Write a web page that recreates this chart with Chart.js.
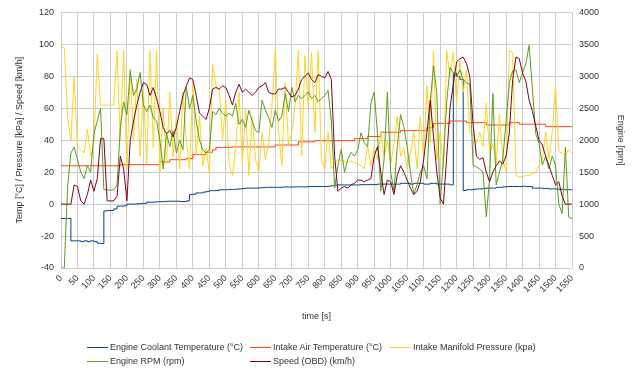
<!DOCTYPE html>
<html>
<head>
<meta charset="utf-8">
<script src="https://cdn.jsdelivr.net/npm/chart.js@4.4.1/dist/chart.umd.min.js"></script>
<style>
  body { margin: 0; background: #fff; }
  #wrap { position: relative; width: 640px; height: 368px; }
  .lg { position: absolute; font: 9px "Liberation Sans", Arial, sans-serif; color: #333; white-space: nowrap; line-height: 12px; height: 12px; padding-left: 23px; }
  .lg i { position: absolute; left: 0; top: 6px; width: 21px; height: 1px; }
</style>
</head>
<body>
<div id="wrap">
  <canvas id="chart" width="640" height="368"></canvas>
  <div id="legend"></div>
</div>
<script>
// time axis, one sample every 10 s
const times = [
  0,10,20,30,40,50,60,70,80,90, 100,110,120,130,140,150,160,170,180,190,
  200,210,220,230,240,250,260,270,280,290, 300,310,320,330,340,350,360,370,380,390,
  400,410,420,430,440,450,460,470,480,490, 500,510,520,530,540,550,560,570,580,590,
  600,610,620,630,640,650,660,670,680,690, 700,710,720,730,740,750,760,770,780,790,
  800,810,820,830,840,850,860,870,880,890, 900,910,920,930,940,950,960,970,980,990,
  1000,1010,1020,1030,1040,1050,1060,1070,1080,1090, 1100,1110,1120,1130,1140,1150,1160,1170,1180,1190,
  1200,1210,1220,1230,1240,1250,1260,1270,1280,1290, 1300,1310,1320,1330,1340,1350,1360,1370,1380,1390,
  1400,1410,1420,1430,1440,1450,1460,1470,1480,1490, 1500,1510,1520,1530,1540,1550
];

const coolant = [
  -9,-9,-9,-23,-23,-23,-23.5,-23,-23.5,-23,
  -23.5,-24.5,-24.7,-4.3,-4,-4,-3,-1.3,-1.3,-1,
  0,0,0,0.2,0.3,0.5,1.2,1.2,1.3,1.5,
  1.5,1.6,1.8,1.8,1.8,1.8,1.6,1.6,2,6,
  6.2,7,7,7.5,7.8,8.4,8.4,8.5,9,9,
  9,9.2,9.2,9.3,9.5,9.8,10,10,10,10,
  10.2,10.3,10.5,10.5,10.5,10.5,10.5,10.7,10.7,10.7,
  10.7,10.8,10.8,10.8,10.8,11,11,11,11,11,
  11,11.2,11.5,11.8,12,12,12,12,12,12,
  12,12.2,12.2,12.2,12.2,12.2,12.5,12.5,12.5,12.5,
  12.5,12.5,12.5,13,13,13,12.5,13,13,13,
  12.5,12.5,13,13,12.5,12.5,12.5,12.5,12,82,
  80,78,8.5,9,9,9.2,9.5,9.5,9.8,10,
  10,10,10.5,10.5,10.8,11,11,11,11,11,
  11.2,11,11,10,10,10,9.8,9.8,9.5,9.5,
  9.5,9.2,9.2,9,9,9
];

const intakeAir = [
  24,24,24,24,24,24,24,24,24,24,
  24,24,24,24,24,24,24,24,24.7,24.7,
  24.7,24.7,24.7,24.7,24.7,24.7,24.7,24.7,24.7,24.7,
  26.4,26.4,26.4,27.8,27.8,27.8,27.8,27.8,28.5,28.5,
  31,31,31,31,32.5,32.5,34,35.5,35.5,35.5,
  35.5,35.5,35.8,35.8,35.8,35.8,35.8,35.8,35.8,35.8,
  35.8,35.8,35.8,35.8,35.8,37,37,37,37,37,
  37,37,39,39,39,39,39,39.7,39.7,39.7,
  39.7,39.7,39.7,39.7,39.7,39.7,39.7,39.7,39.7,41,
  41,41,41,42.3,42.3,42.3,42.3,45,45,45,
  45,45,45,46,46,46,46,46,46,46,
  46,47.8,47.8,50.5,50.5,50.5,50.5,50.5,52,52,
  52,52,52,51,51,51,51,51,51,49.5,
  49.5,49.5,49.5,49.5,49.5,49.5,51,51,51,50,
  50,50,50,50,50,50,50,48.5,48.5,48.5,
  48.5,48.5,48.5,48.5,48.5,48.5
];

const manifold = [
  98,98,55,40,80,36,34,32,47,30,
  38,94,62,62,62,62,62,96,40,96,
  22,85,40,78,30,72,25,96,35,96,
  20,60,25,70,30,55,22,70,40,22,
  75,30,55,24,35,20,87,74,72,40,
  65,25,18,35,70,25,60,18,55,28,
  20,45,28,38,62,96,45,24,76,37,
  45,62,96,30,93,60,95,45,96,28,
  22,45,22,25,28,27,27,26,27,26,
  25,24,22,37,24,35,28,45,30,40,
  25,38,55,30,35,22,32,45,22,55,
  28,74,38,96,28,45,22,96,80,95,
  63,90,70,84,45,43,38,45,36,63,
  32,38,25,56,28,20,96,95,18,17,
  17,18,18,19,20,24,28,45,28,45,
  74,33,32,31,34,32
];

const rpm = [
  0,0,1270,1800,1890,1700,1500,1400,1600,1500,
  2100,2300,2500,1230,1220,1220,1220,1300,2200,2600,
  2400,3086,2700,2800,3060,2550,2450,2550,2350,2300,
  2000,1550,2100,1900,2150,1800,2000,1850,2830,2500,
  2700,2300,2000,1850,1800,1850,2450,2400,2500,2420,
  2380,2420,2380,2575,2250,2330,2200,2470,2300,2150,
  2120,2626,2470,2350,2200,2470,2300,2380,2730,2450,
  2830,2600,2700,2650,2700,2755,2650,2700,2600,2650,
  2700,2780,2300,1250,1600,1860,1500,1700,1810,1750,
  1850,2115,1960,1900,2575,2755,2100,1200,1700,2750,
  1500,1200,1900,2400,2200,1900,1500,1150,1300,1500,
  1600,1400,2600,3163,2730,1000,1700,2600,3140,3050,
  3000,3100,2950,2900,2880,1610,1580,1550,1500,800,
  1400,2730,1300,1500,1700,2300,2900,3086,3100,2900,
  3050,3200,3485,2800,2100,1950,1610,1750,1550,1750,
  1610,1000,850,1886,800,770
];

const speed = [
  0,0,0,0,12,11,2,0,6,15,
  8,16,41,41,2,2,2,5,30,22,
  2,40,52,62,70,76,75,68,73,66,
  58,48,44,46,42,48,58,68,74,79,
  78,68,57,55,53,60,72,73,72,74,
  73,68,62,70,75,70,72,70,68,70,
  73,74,76,70,69,69,72,72,73,70,
  67,68,72,78,80,82,78,76,81,80,
  79,83,78,30,8,10,11,10,12,13,
  15,15,14,15,16,30,36,20,6,15,
  14,6,18,24,20,15,10,6,8,14,
  28,45,65,42,20,4,0,30,60,75,
  89,91,92,88,80,50,30,28,29,20,
  14,20,24,27,25,30,45,78,92,91,
  82,77,65,58,49,40,37,30,24,18,
  12,14,5,0,0,0
];

const seriesNames = [
  'Engine Coolant Temperature (°C)',
  'Intake Air Temperature (°C)',
  'Intake Manifold Pressure (kpa)',
  'Engine RPM (rpm)',
  'Speed (OBD) (km/h)'
];
const seriesColors = ['#004586', '#ff420e', '#ffd320', '#579d1c', '#7e0021'];

const pts = arr => arr.map((v, i) => ({ x: times[i], y: v }));
const plain = v => String(v);   // no thousands separator

Chart.defaults.font.family = '"Liberation Sans", Arial, sans-serif';
Chart.defaults.font.size = 9;
Chart.defaults.color = '#333';

const gridColor = '#cccccc';

new Chart(document.getElementById('chart'), {
  type: 'line',
  data: {
    datasets: [
      { label: seriesNames[4], data: pts(speed), borderColor: seriesColors[4], yAxisID: 'y' },
      { label: seriesNames[3], data: pts(rpm), borderColor: seriesColors[3], yAxisID: 'y2' },
      { label: seriesNames[2], data: pts(manifold), borderColor: seriesColors[2], yAxisID: 'y' },
      { label: seriesNames[1], data: pts(intakeAir), borderColor: seriesColors[1], yAxisID: 'y', stepped: true },
      { label: seriesNames[0], data: pts(coolant), borderColor: seriesColors[0], yAxisID: 'y', stepped: true }
    ]
  },
  options: {
    responsive: false,
    animation: false,
    layout: { padding: { top: 7, bottom: 40, left: 0, right: 0 } },
    elements: {
      line: { borderWidth: 1, tension: 0, fill: false },
      point: { radius: 0 }
    },
    plugins: { legend: { display: false }, tooltip: { enabled: false } },
    scales: {
      x: {
        type: 'linear', min: 0, max: 1550,
        grid: { color: gridColor, drawTicks: false },
        border: { display: false },
        ticks: { stepSize: 50, autoSkip: false, maxRotation: 45, minRotation: 45, padding: 5, callback: plain },
        title: { display: true, text: 'time [s]', padding: { top: 0, bottom: 6 } },
        afterFit(scale) { scale.height = 60; }
      },
      y: {
        position: 'left', min: -40, max: 120,
        grid: { color: gridColor, drawTicks: false },
        border: { display: false },
        ticks: { stepSize: 20, padding: 7, callback: plain },
        title: { display: true, text: 'Temp [°C] / Pressure [kPa] / Speed [km/h]', padding: { top: 14, bottom: 0 } },
        afterFit(scale) { scale.width = 61; }
      },
      y2: {
        position: 'right', min: 0, max: 4000,
        grid: { display: false, drawTicks: false },
        border: { display: false },
        ticks: { stepSize: 500, padding: 7, callback: plain },
        title: { display: true, text: 'Engine [rpm]', padding: { top: 14, bottom: 0 } },
        afterFit(scale) { scale.width = 68; }
      }
    }
  }
});

// legend laid out in columns like the original
const legendPos = [[87, 341], [250, 341], [390, 341], [87, 355], [250, 355]];
document.getElementById('legend').innerHTML = seriesNames.map((n, i) =>
  `<div class="lg" style="left:${legendPos[i][0]}px;top:${legendPos[i][1]}px"><i style="background:${seriesColors[i]}"></i>${n}</div>`
).join('');
</script>
</body>
</html>
